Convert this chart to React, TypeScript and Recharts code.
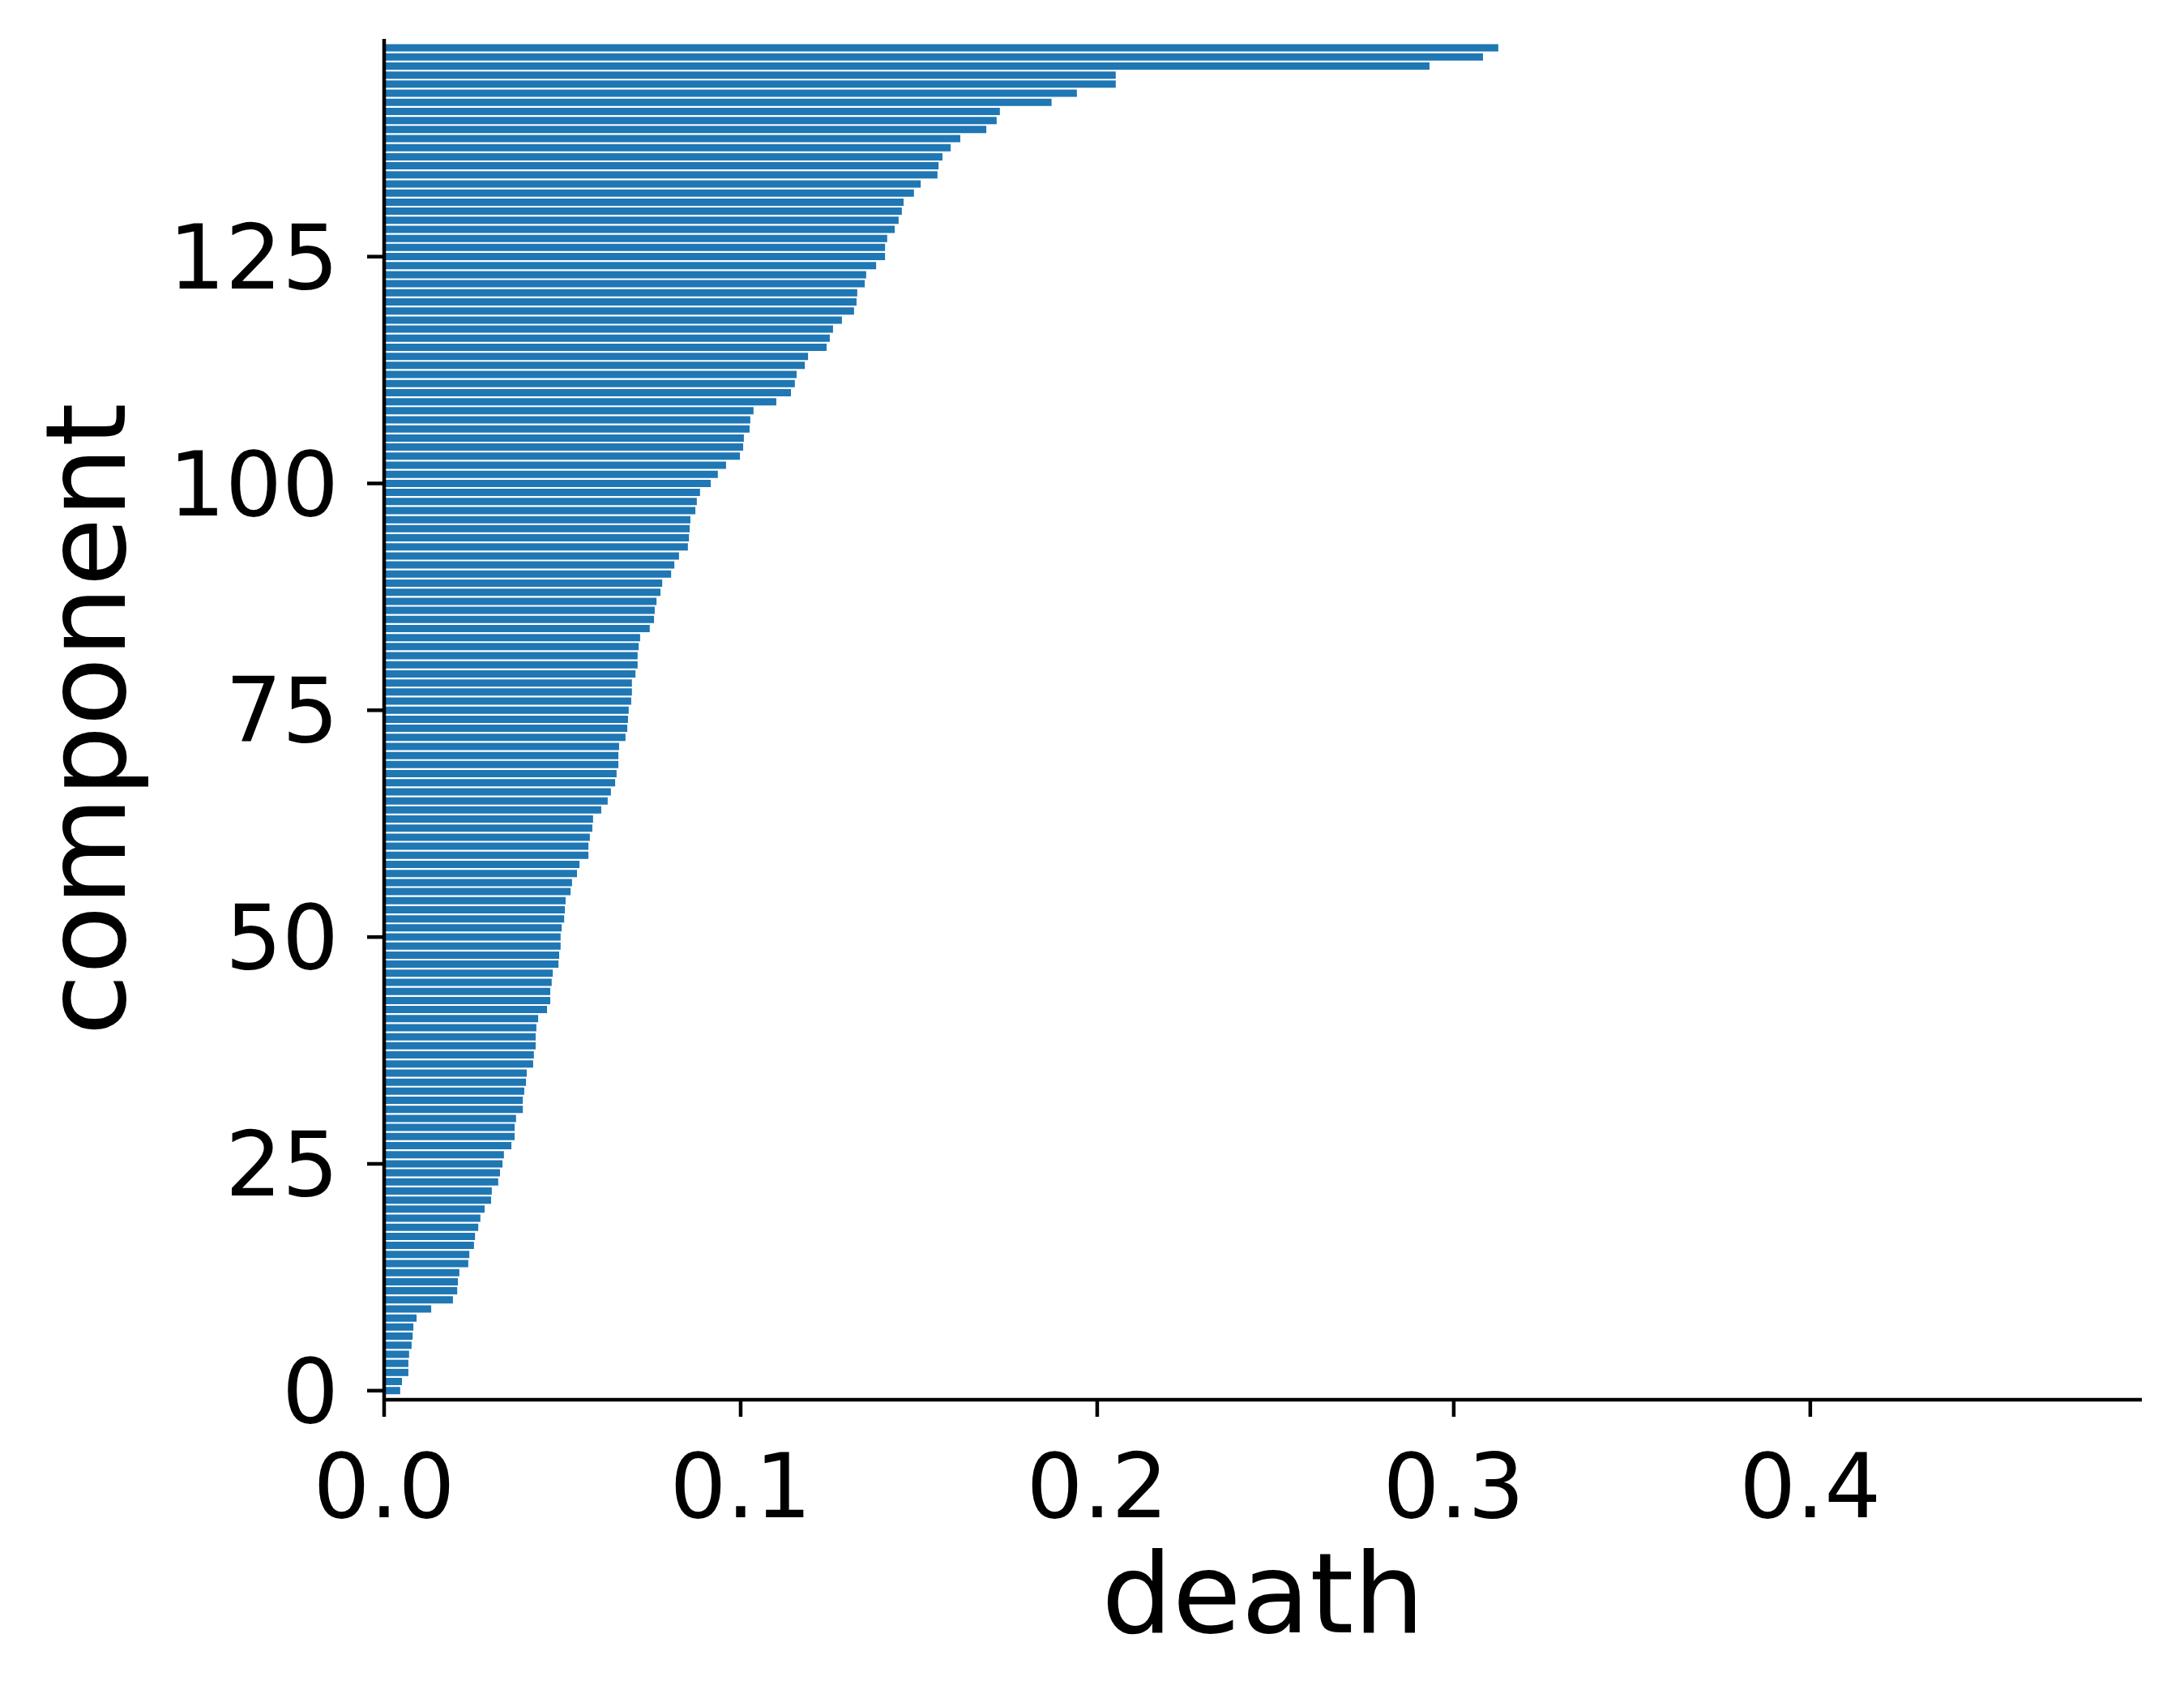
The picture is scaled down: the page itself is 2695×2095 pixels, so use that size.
import React from 'react';
import { BarChart, Bar, XAxis, YAxis } from 'recharts';

// death value per component, index = component id (0 at the bottom)
const deathValues: number[] = [
  0.0045, 0.0050, 0.0068, 0.0068, 0.0070, 0.0077, 0.0080, 0.0082, 0.0091, 0.0132,
  0.0193, 0.0205, 0.0207, 0.0211, 0.0236, 0.0239, 0.0252, 0.0255, 0.0264, 0.0270,
  0.0282, 0.0300, 0.0302, 0.0320, 0.0325, 0.0332, 0.0336, 0.0357, 0.0366, 0.0366,
  0.0370, 0.0389, 0.0389, 0.0393, 0.0398, 0.0400, 0.0418, 0.0420, 0.0425, 0.0425,
  0.0427, 0.0432, 0.0457, 0.0466, 0.0466, 0.0470, 0.0473, 0.0489, 0.0491, 0.0495,
  0.0495, 0.0498, 0.0505, 0.0507, 0.0509, 0.0523, 0.0527, 0.0541, 0.0548, 0.0573,
  0.0573, 0.0577, 0.0584, 0.0586, 0.0609, 0.0627, 0.0636, 0.0648, 0.0652, 0.0657,
  0.0657, 0.0659, 0.0677, 0.0682, 0.0684, 0.0686, 0.0693, 0.0695, 0.0695, 0.0705,
  0.0711, 0.0711, 0.0714, 0.0718, 0.0745, 0.0757, 0.0759, 0.0764, 0.0775, 0.0780,
  0.0805, 0.0814, 0.0827, 0.0852, 0.0855, 0.0857, 0.0859, 0.0873, 0.0877, 0.0886,
  0.0916, 0.0936, 0.0959, 0.0998, 0.1007, 0.1009, 0.1025, 0.1027, 0.1036, 0.1100,
  0.1141, 0.1152, 0.1157, 0.1180, 0.1189, 0.1241, 0.1250, 0.1259, 0.1284, 0.1318,
  0.1325, 0.1327, 0.1348, 0.1352, 0.1380, 0.1405, 0.1405, 0.1411, 0.1432, 0.1443,
  0.1452, 0.1457, 0.1486, 0.1505, 0.1552, 0.1555, 0.1566, 0.1589, 0.1616, 0.1689,
  0.1718, 0.1727, 0.1872, 0.1943, 0.2052, 0.2052, 0.2932, 0.3082, 0.3125,
];

const xTicks = [0, 0.1, 0.2, 0.3, 0.4];
const yTicks = [0, 25, 50, 75, 100, 125];

const data = deathValues.map((death, component) => ({ component, death }));

const FONT = 'DejaVu Sans';
const tickStyle = { fill: '#000', fontSize: 110, fontFamily: FONT };
const lineStyle = { stroke: '#000', strokeWidth: 4.5 };

const YLabel = (props: any) => {
  const { viewBox } = props;
  const x = viewBox.x + 146;
  const y = viewBox.y + viewBox.height / 2;
  return (
    <text x={x} y={y} transform={`rotate(-90, ${x}, ${y})`} textAnchor="middle"
      fontSize={138} fontFamily={FONT} fill="#000">
      component
    </text>
  );
};

const XLabel = (props: any) => {
  const { viewBox } = props;
  return (
    <text x={viewBox.x + viewBox.width / 2} y={viewBox.y + 287} textAnchor="middle"
      fontSize={138} fontFamily={FONT} fill="#000">
      death
    </text>
  );
};

const App: React.FC = () => (
  <BarChart
    width={2680}
    height={2080}
    data={data}
    layout="vertical"
    margin={{ top: 40, right: 45, bottom: 0, left: 0 }}
  >
    <XAxis
      type="number"
      dataKey="death"
      domain={[0, 0.493]}
      ticks={xTicks}
      tickFormatter={(v: number) => v.toFixed(1)}
      height={361}
      tick={tickStyle}
      tickSize={21}
      tickMargin={46}
      axisLine={lineStyle}
      tickLine={lineStyle}
      allowDataOverflow
      label={<XLabel />}
    />
    <YAxis
      type="number"
      dataKey="component"
      domain={[-1, 149]}
      ticks={yTicks}
      reversed
      width={466}
      tick={tickStyle}
      tickSize={21}
      tickMargin={35}
      axisLine={lineStyle}
      tickLine={lineStyle}
      allowDataOverflow
      label={<YLabel />}
    />
    <Bar dataKey="death" fill="#1f77b4" barSize={9} isAnimationActive={false} />
  </BarChart>
);

export default App;
